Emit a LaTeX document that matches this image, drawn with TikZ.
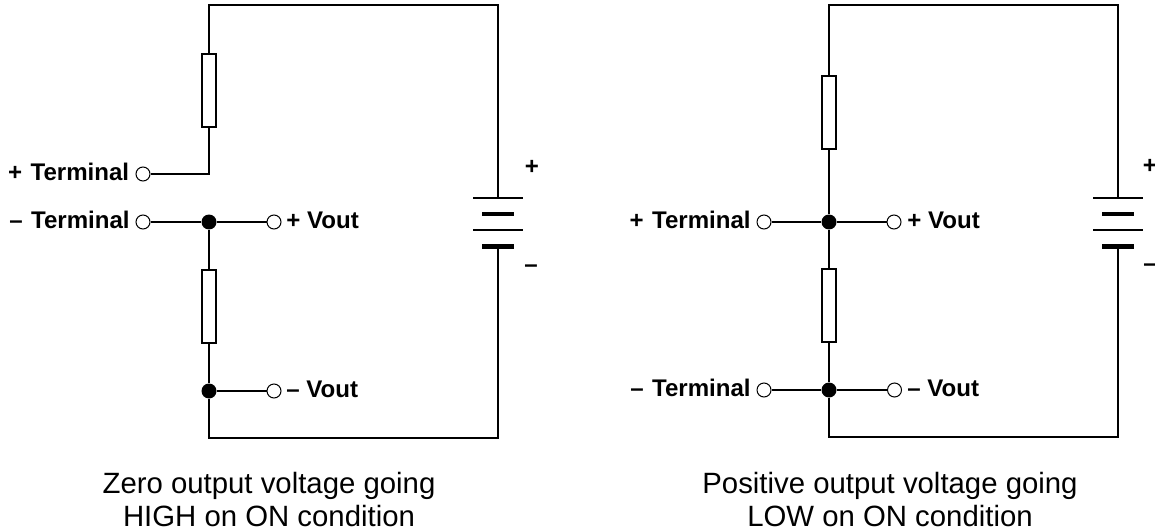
\documentclass[tikz,border=0pt]{standalone}
\usepackage{fontspec}
\setmainfont{Liberation Sans}
\usetikzlibrary{calc,positioning}
\tikzset{
    wire/.style={line width=.045cm},
    port/.style={circle,draw,fill=white,line width=.02cm,minimum size=.28cm,inner sep=0pt},
    joint/.style={circle,fill=black,minimum size=.3cm,inner sep=0pt},
    res/.style={rectangle,draw,fill=white,line width=.04cm,minimum width=.28cm,minimum height=1.46cm,inner sep=0pt},
    thinplate/.style={rectangle,fill=black,minimum width=1cm,minimum height=.04cm,inner sep=0pt},
    thickplate/.style={rectangle,fill=black,minimum width=.64cm,minimum height=.1cm,inner sep=0pt},
    lbl/.style={font=\fontsize{13.7}{15}\selectfont\bfseries,inner sep=0pt},
    caption/.style={font=\fontsize{16.7}{18.4}\selectfont,align=center,inner sep=0pt},
}
\begin{document}
\begin{tikzpicture}[x=.02cm,y=-.02cm]
            \useasboundingbox (0,0) rectangle (1155,530);
                \begin{scope}
                    \coordinate (topa) at (209,5);
                    \coordinate (topb) at (498,5);
                    \coordinate (bota) at (209,438);
                    \coordinate (botb) at (498,438);
                    \coordinate (bend) at (209,174);
                    \node[port] (tpos) at (143,174) {};
                    \node[port] (tneg) at (143,222) {};
                    \node[joint] (jup) at (209,222) {};
                    \node[joint] (jlow) at (209,391) {};
                    \node[port] (vpos) at (274,222) {};
                    \node[port] (vneg) at (274,391) {};
                    \node[res] (rup) at (209,90.5) {};
                    \node[res] (rlow) at (209,306.5) {};
                    \node[thinplate] (pa) at (498,198) {};
                    \node[thickplate] (pb) at (498,214) {};
                    \node[thinplate] (pc) at (498,230) {};
                    \node[thickplate] (pd) at (498,246) {};
                    \draw[wire] (pa.center)--(topb)--(topa)--(rup.north);
                    \draw[wire] (rup.south)--(bend)--(tpos.east);
                    \draw[wire] (tneg.east)--(jup)--(vpos.west);
                    \draw[wire] (jup)--(rlow.north);
                    \draw[wire] (rlow.south)--(jlow)--(bota)--(botb)--(pd.center);
                    \draw[wire] (jlow)--(vneg.west);
                    \node[lbl,anchor=east] (ltp) at (129.5,172) {+\hspace{1pt} Terminal};
                    \node[lbl,anchor=east] (ltn) at (130,220) {--\hspace{1pt} Terminal};
                    \node[lbl,anchor=west] (lvp) at (286,220) {+ Vout};
                    \node[lbl,anchor=west] (lvn) at (286,389.5) {-- Vout};
                    \node[lbl] (bpos) at (532,167) {+};
                    \node[lbl] (bneg) at (531,269) {--};
                    \node[caption] (capa) at (269,499.5) {Zero output voltage going\\HIGH on ON condition};
                \end{scope}
                \begin{scope}[shift={(620,0)}]
                    \coordinate (topa) at (209,5);
                    \coordinate (topb) at (498,5);
                    \coordinate (bota) at (209,437);
                    \coordinate (botb) at (498,437);
                    \node[port] (tpos) at (144,222) {};
                    \node[port] (tneg) at (144,390) {};
                    \node[joint] (jup) at (209,222) {};
                    \node[joint] (jlow) at (209,390) {};
                    \node[port] (vpos) at (274,222) {};
                    \node[port] (vneg) at (274.5,390) {};
                    \node[res] (rup) at (209,112.5) {};
                    \node[res] (rlow) at (209,305.5) {};
                    \node[thinplate] (pa) at (498,198) {};
                    \node[thickplate] (pb) at (498,214) {};
                    \node[thinplate] (pc) at (498,230) {};
                    \node[thickplate] (pd) at (498,246) {};
                    \draw[wire] (pa.center)--(topb)--(topa)--(rup.north);
                    \draw[wire] (rup.south)--(jup);
                    \draw[wire] (tpos.east)--(jup)--(vpos.west);
                    \draw[wire] (jup)--(rlow.north);
                    \draw[wire] (rlow.south)--(jlow)--(bota)--(botb)--(pd.center);
                    \draw[wire] (tneg.east)--(jlow)--(vneg.west);
                    \node[lbl,anchor=east] (ltp) at (131,220) {+\hspace{1pt} Terminal};
                    \node[lbl,anchor=east] (ltn) at (131,388) {--\hspace{1pt} Terminal};
                    \node[lbl,anchor=west] (lvp) at (287,220) {+ Vout};
                    \node[lbl,anchor=west] (lvn) at (287,388.5) {-- Vout};
                    \node[lbl] (bpos) at (530,166) {+};
                    \node[lbl] (bneg) at (530,268) {--};
                    \node[caption] (capb) at (270,499.5) {Positive output voltage going\\LOW on ON condition};
                \end{scope}
            \end{tikzpicture}
\end{document}
